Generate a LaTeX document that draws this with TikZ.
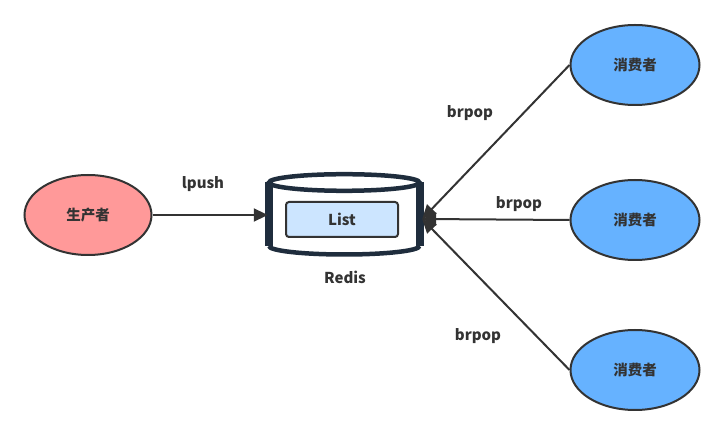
\documentclass[tikz,border=0pt]{standalone}
\usepackage{fontspec}
\setmainfont{Noto Sans CJK SC}
\usepackage{tikz}
\usetikzlibrary{arrows.meta, shapes.geometric, positioning, calc}

\definecolor{vien}{HTML}{333333}
\definecolor{do}{HTML}{FF9999}
\definecolor{xanh}{HTML}{66B2FF}
\definecolor{nhat}{HTML}{CCE5FF}
\definecolor{tru}{HTML}{1F2D3D}

\tikzset{
    chu/.style={font=\bfseries\fontsize{15}{17}\selectfont, text=vien},
    elip/.style={ellipse, draw=vien, line width=2pt, inner sep=0pt, chu, font=\bfseries\fontsize{14.5}{16}\selectfont},
    muiten/.style={draw=vien, line width=2pt, -{Triangle[length=14pt,width=13pt]}},
    tru/.style={draw=tru, line width=4.5pt},
    thanh/.style={draw=tru, line width=8pt}
}

\begin{document}
\begin{tikzpicture}[x=1pt,y=-1pt]

            \useasboundingbox (0,0) rectangle (723,435);

            % Vẽ khối Redis
            \fill[white] (269,182.5) -- (269,246) arc[start angle=180, end angle=0, x radius=75.25, y radius=8.5] -- (419.5,182.5) -- cycle;
            \draw[tru] (269,246) arc[start angle=180, end angle=0, x radius=75.25, y radius=8.5];
            \draw[thanh] (269,182.5) -- (269,246);
            \draw[thanh] (419.5,182.5) -- (419.5,246);
            \draw[tru, fill=white] (344.25,182.5) ellipse[x radius=75.25, y radius=8.3];
            \node[inner sep=0pt, minimum width=154pt, minimum height=75pt] (redis) at (345,219) {};
            \node[chu] (tenredis) at (345,277) {Redis};

            % Vẽ hộp List
            \node[draw=vien, line width=2pt, fill=nhat, rounded corners=3pt, minimum width=112pt, minimum height=35pt, chu] (list) at (342,219.5) {List};

            % Vẽ nhà sản xuất
            \node[elip, fill=do, minimum width=127pt, minimum height=80pt] (sx) at (88,215) {生产者};

            % Vẽ người tiêu dùng
            \node[elip, fill=xanh, minimum width=129pt, minimum height=80pt] (td1) at (635,65) {消费者};
            \node[elip, fill=xanh, minimum width=129pt, minimum height=80pt] (td2) at (635,220) {消费者};
            \node[elip, fill=xanh, minimum width=129pt, minimum height=80pt] (td3) at (635,370) {消费者};

            % Vẽ mũi tên
            \draw[muiten] (sx.east) -- (sx.east -| redis.west);
            \draw[muiten] (td1.west) -- (redis.east);
            \draw[muiten] (td2.west) -- (redis.east);
            \draw[muiten] (td3.west) -- (redis.east);

            % Vẽ nhãn
            \node[chu] (lpush) at (203,184) {lpush};
            \node[chu] (pop1) at (470,113) {brpop};
            \node[chu] (pop2) at (519,204) {brpop};
            \node[chu] (pop3) at (478,336) {brpop};

\end{tikzpicture}
\end{document}
